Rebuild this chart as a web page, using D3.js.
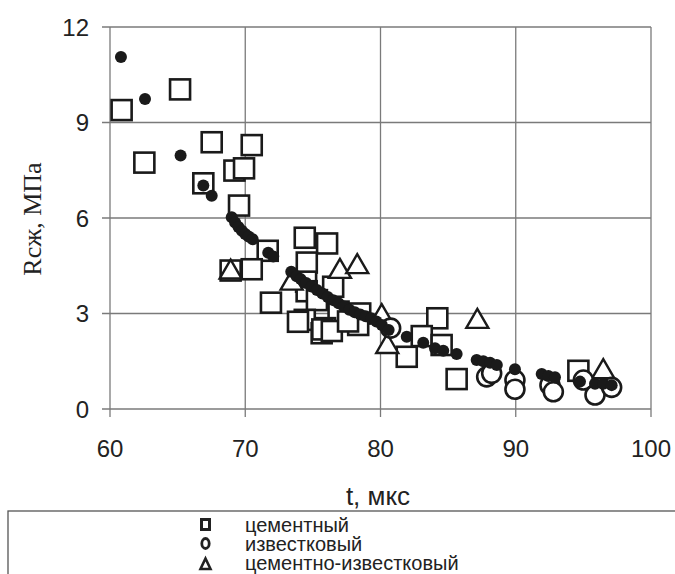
<!DOCTYPE html>
<html><head><meta charset="utf-8">
<script src="https://cdn.jsdelivr.net/npm/d3@7"></script>
<style>body{margin:0;background:#fff}svg{display:block}</style>
</head><body>
<svg id="c" width="675" height="574"></svg>
<script>
const xTicks = [60, 70, 80, 90, 100];
const yTicks = [0, 3, 6, 9, 12];
const xTitle = "t, мкс";
const yTitle = "Rсж, МПа";
const seriesNames = ["цементный", "известковый", "цементно-известковый"];

// цементный (squares)
const cementX = [60.86,65.18,62.54,67.52,70.48,69.2,69.91,66.9,69.54,71.66,68.92,70.48,74.4,76.05,74.55,74.5,71.9,76.5,74.54,75.3,76.9,78.5,78.35,75.9,74.4,75.65,75.7,76.4,73.9,77.6,84.2,83.05,84.52,81.94,85.63,94.63];
const cementY = [9.39,10.04,7.74,8.38,8.29,7.49,7.56,7.09,6.39,4.97,4.35,4.39,5.38,5.2,4.6,4.0,3.34,3.84,3.7,3.42,3.06,3.0,2.64,2.54,2.8,2.38,2.5,2.45,2.74,2.75,2.85,2.29,2.01,1.64,0.94,1.2];
// известковый (open circles)
const limeX = [80.75,87.85,88.22,89.94,89.94,92.53,92.78,95.0,95.86,97.09];
const limeY = [2.54,1.01,1.12,0.91,0.62,0.75,0.54,0.91,0.44,0.68];
// цементно-известковый (triangles)
const mixX = [68.92,73.43,77.0,78.28,80.09,80.5,87.16,96.47];
const mixY = [4.35,4.0,4.37,4.52,2.95,2.01,2.8,1.22];
// calculated (filled circles)
const calcX = [60.81,62.59,65.22,66.9,67.52,69.0,69.25,69.5,69.75,70.0,70.25,70.55,71.7,72.07,
  73.4,73.8,74.1,74.5,74.9,75.3,75.7,76.1,76.5,76.9,77.3,77.7,78.1,78.5,78.9,79.3,79.7,80.1,80.6,
  81.94,83.16,84.03,84.64,85.63,87.11,87.6,88.1,88.6,89.94,91.92,92.41,92.9,94.75,95.86,96.47,97.09];
const calcY = [11.06,9.74,7.96,7.02,6.70,6.02,5.86,5.72,5.60,5.50,5.42,5.33,4.91,4.79,
  4.31,4.17,4.08,3.96,3.85,3.74,3.63,3.52,3.42,3.32,3.22,3.12,3.04,2.97,2.91,2.85,2.75,2.64,2.48,
  2.27,2.08,1.91,1.83,1.73,1.54,1.50,1.45,1.38,1.25,1.10,1.04,1.00,0.86,0.79,0.79,0.75];

const svg = d3.select("#c");
const x = d3.scaleLinear().domain([60, 100]).range([110, 651]);
const y = d3.scaleLinear().domain([0, 12]).range([409, 27]);
const gridC = "#7a7a7a";
const font = "'Liberation Sans', Arial, sans-serif";

// grid
svg.append("g").selectAll("line").data(xTicks).join("line")
  .attr("x1", d => x(d)).attr("x2", d => x(d)).attr("y1", y(12)).attr("y2", y(0) + 8)
  .attr("stroke", gridC).attr("stroke-width", 1.3);
svg.append("g").selectAll("line").data(yTicks).join("line")
  .attr("y1", d => y(d)).attr("y2", d => y(d)).attr("x1", x(60) - 8).attr("x2", x(100))
  .attr("stroke", gridC).attr("stroke-width", 1.3);

// tick labels
svg.append("g").selectAll("text").data(xTicks).join("text")
  .attr("x", d => x(d)).attr("y", 457).attr("text-anchor", "middle")
  .attr("font-family", font).attr("font-size", 24).attr("fill", "#222").text(d => d);
svg.append("g").selectAll("text").data(yTicks).join("text")
  .attr("x", 89).attr("y", d => y(d)).attr("dy", "0.36em").attr("text-anchor", "end")
  .attr("font-family", font).attr("font-size", 24).attr("fill", "#222").text(d => d);

// titles
svg.append("text").attr("x", 378).attr("y", 505).attr("text-anchor", "middle")
  .attr("font-family", font).attr("font-size", 26).attr("fill", "#222").text(xTitle);
svg.append("text").attr("transform", "translate(41,219) rotate(-90)").attr("text-anchor", "middle")
  .attr("font-family", "'Liberation Serif', 'Times New Roman', serif").attr("font-size", 26)
  .attr("fill", "#222").text(yTitle);

const markC = "#1a1a1a";
const sq = 20, tri = 22;
const plot = svg.append("g");
// squares
plot.append("g").selectAll("rect").data(cementX.map((v, i) => [v, cementY[i]])).join("rect")
  .attr("x", d => x(d[0]) - sq / 2).attr("y", d => y(d[1]) - sq / 2)
  .attr("width", sq).attr("height", sq)
  .attr("fill", "#fff").attr("stroke", markC).attr("stroke-width", 2.6);
// triangles
plot.append("g").selectAll("path").data(mixX.map((v, i) => [v, mixY[i]])).join("path")
  .attr("d", d => {
    const cx = x(d[0]), cy = y(d[1]);
    return `M${cx},${cy - 11}L${cx + tri / 2},${cy + 8}L${cx - tri / 2},${cy + 8}Z`;
  })
  .attr("fill", "#fff").attr("stroke", markC).attr("stroke-width", 2.4).attr("stroke-linejoin", "miter");
// open circles
plot.append("g").selectAll("circle").data(limeX.map((v, i) => [v, limeY[i]])).join("circle")
  .attr("cx", d => x(d[0])).attr("cy", d => y(d[1])).attr("r", 9.5)
  .attr("fill", "#fff").attr("stroke", markC).attr("stroke-width", 2.6);
// filled circles
plot.append("g").selectAll("circle").data(calcX.map((v, i) => [v, calcY[i]])).join("circle")
  .attr("cx", d => x(d[0])).attr("cy", d => y(d[1])).attr("r", 6)
  .attr("fill", markC);

// legend
svg.append("rect").attr("x", 8).attr("y", 511).attr("width", 700).attr("height", 100)
  .attr("fill", "none").attr("stroke", "#555").attr("stroke-width", 1.3);
const lg = svg.append("g");
const baselines = [532, 551, 570];
const lt = lg.append("text").attr("font-family", font).attr("font-size", 20).attr("fill", "#222");
lt.selectAll("tspan").data(seriesNames).join("tspan")
  .attr("x", 245).attr("y", (d, i) => baselines[i]).text(d => d);
lg.append("rect").attr("x", 201.5).attr("y", 519.5).attr("width", 8).attr("height", 10)
  .attr("fill", "none").attr("stroke", "#222").attr("stroke-width", 3);
lg.append("ellipse").attr("cx", 205.5).attr("cy", 543.5).attr("rx", 3.7).attr("ry", 5)
  .attr("fill", "none").attr("stroke", "#222").attr("stroke-width", 2.8);
lg.append("path").attr("d", "M205.5,558.5L210.5,569L200.5,569Z")
  .attr("fill", "none").attr("stroke", "#222").attr("stroke-width", 2.6);
</script>
</body></html>
